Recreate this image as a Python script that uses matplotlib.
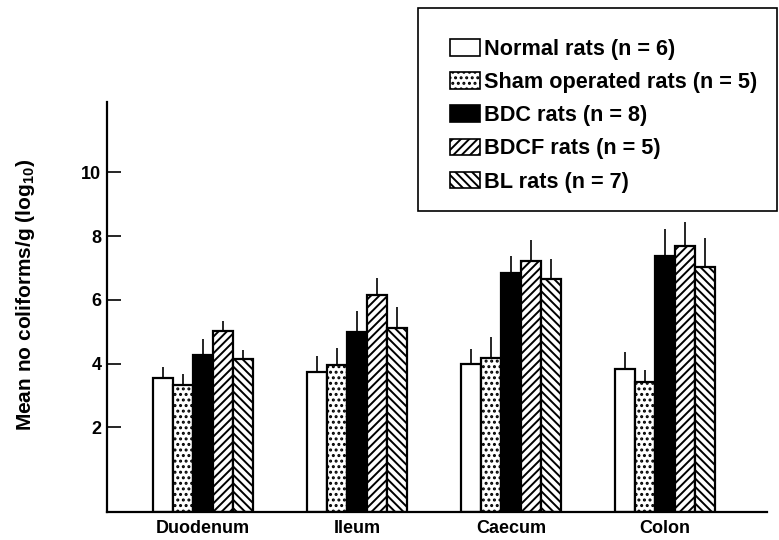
import numpy as np
import matplotlib.pyplot as plt
from matplotlib.patches import Patch, Rectangle

plt.rcParams['font.family'] = ['Liberation Sans', 'DejaVu Sans']
plt.rcParams['hatch.linewidth'] = 1.4
plt.rcParams['mathtext.default'] = 'regular'

# Données
sites = ['Duodenum', 'Ileum', 'Caecum', 'Colon']
groupes = ['Normal rats (n = 6)', 'Sham operated rats (n = 5)', 'BDC rats (n = 8)',
           'BDCF rats (n = 5)', 'BL rats (n = 7)']
normal = [3.55, 3.74, 3.98, 3.82]
sham = [3.32, 3.97, 4.16, 3.43]
bdc = [4.27, 5.00, 6.83, 7.39]
bdcf = [5.03, 6.15, 7.23, 7.70]
bl = [4.13, 5.13, 6.65, 7.04]
err_normal = [0.35, 0.49, 0.47, 0.55]
err_sham = [0.35, 0.51, 0.66, 0.36]
err_bdc = [0.50, 0.64, 0.54, 0.82]
err_bdcf = [0.31, 0.55, 0.65, 0.75]
err_bl = [0.31, 0.63, 0.64, 0.91]

moyennes = [normal, sham, bdc, bdcf, bl]
erreurs = [err_normal, err_sham, err_bdc, err_bdcf, err_bl]
couleurs = ['white', 'white', 'black', 'white', 'white']
hachures = [None, '...', None, '////', '\\\\\\\\']

fig = plt.figure(figsize=(7.79, 5.40), dpi=100)
ax = fig.add_axes([0.1374, 0.0524, 0.8472, 0.7593])

y0 = -0.65
larg = 0.13
x = np.arange(len(sites))
for i in range(5):
    pos = x + (i - 2) * larg
    vals = np.array(moyennes[i])
    ax.bar(pos, vals - y0, bottom=y0, width=larg, color=couleurs[i], edgecolor='black',
           linewidth=1.6, hatch=hachures[i], zorder=2)
    # barres d'erreur vers le haut seulement
    ax.errorbar(pos, vals, yerr=[np.zeros(4), erreurs[i]], fmt='none', ecolor='black',
                elinewidth=1.2, capsize=0, zorder=1)

ax.set_ylim(y0, 12.22)
ax.set_xlim(-0.62, 3.66)
ax.set_yticks([2, 4, 6, 8, 10])
ax.tick_params(axis='y', direction='in', length=10, width=1.2, labelsize=13, pad=4)
ax.tick_params(axis='x', length=0, labelsize=13, pad=6)
ax.set_xticks(x)
ax.set_xticklabels(sites)
for lab in ax.get_yticklabels() + ax.get_xticklabels():
    lab.set_fontweight('bold')
for s in ['top', 'right']:
    ax.spines[s].set_visible(False)
for s in ['left', 'bottom']:
    ax.spines[s].set_linewidth(1.6)

ax.set_ylabel('Mean no coliforms/g (log$_{10}$)', fontsize=15, fontweight='bold')
ax.yaxis.set_label_coords(-0.106, 0.528)

# cadre de la légende dessiné à part
W, H = 779, 540
fig.patches.append(Rectangle((418 / W, 1 - 211 / H), 359 / W, 203 / H, transform=fig.transFigure,
                             facecolor='white', edgecolor='black', linewidth=1.2, zorder=3))

poignees = [Patch(facecolor=couleurs[i], edgecolor='black', hatch=hachures[i], linewidth=1.2)
            for i in range(5)]
leg = fig.legend(poignees, groupes, loc='upper left', bbox_to_anchor=(450 / W, 1 - 39 / H),
                 prop={'weight': 'bold', 'size': 15.6}, handlelength=1.4,
                 handleheight=0.8, handletextpad=0.15, labelspacing=0.56, borderpad=0,
                 borderaxespad=0, frameon=False)
leg.set_zorder(4)

fig.savefig('out.png', dpi=100)
